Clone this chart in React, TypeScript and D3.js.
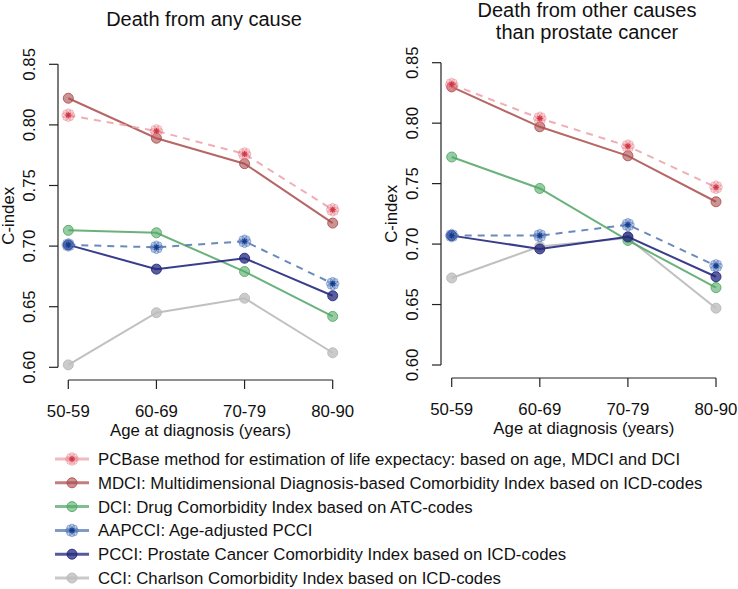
import React from "react";
import * as d3 from "d3";

const categories = ["50-59", "60-69", "70-79", "80-90"];

const seriesNames = ["PCBase", "MDCI", "DCI", "AAPCCI", "PCCI", "CCI"];

const legendLabels = [
  "PCBase method for estimation of life expectacy: based on age, MDCI and DCI",
  "MDCI: Multidimensional Diagnosis-based Comorbidity Index based on ICD-codes",
  "DCI: Drug Comorbidity Index based on ATC-codes",
  "AAPCCI: Age-adjusted PCCI",
  "PCCI: Prostate Cancer Comorbidity Index based on ICD-codes",
  "CCI: Charlson Comorbidity Index based on ICD-codes",
];

// Death from any cause
const anyPCBase = [0.808, 0.795, 0.776, 0.73];
const anyMDCI = [0.822, 0.789, 0.768, 0.719];
const anyDCI = [0.713, 0.711, 0.679, 0.642];
const anyAAPCCI = [0.701, 0.699, 0.704, 0.669];
const anyPCCI = [0.701, 0.681, 0.69, 0.659];
const anyCCI = [0.602, 0.645, 0.657, 0.612];

// Death from other causes than prostate cancer
const otherPCBase = [0.832, 0.804, 0.781, 0.747];
const otherMDCI = [0.83, 0.797, 0.773, 0.735];
const otherDCI = [0.772, 0.746, 0.703, 0.664];
const otherAAPCCI = [0.707, 0.707, 0.716, 0.682];
const otherPCCI = [0.707, 0.696, 0.706, 0.673];
const otherCCI = [0.672, 0.698, 0.705, 0.647];

const yTicks = [0.6, 0.65, 0.7, 0.75, 0.8, 0.85];

type Style = {
  line: string;
  dash?: string;
  marker: "circle" | "flower";
  fill: string;
  petalStroke?: string;
  center?: string;
};

const styles: Record<string, Style> = {
  PCBase: { line: "rgba(236,160,168,0.85)", dash: "7,6", marker: "flower", fill: "rgba(235,140,150,0.3)", petalStroke: "rgba(220,110,120,0.55)", center: "rgba(210,50,65,0.9)" },
  MDCI: { line: "rgba(170,75,75,0.85)", marker: "circle", fill: "rgba(170,75,75,0.6)" },
  DCI: { line: "rgba(80,165,100,0.85)", marker: "circle", fill: "rgba(80,170,100,0.6)" },
  AAPCCI: { line: "rgba(90,125,180,0.9)", dash: "7,6", marker: "flower", fill: "rgba(80,120,190,0.35)", petalStroke: "rgba(60,100,175,0.6)", center: "rgba(20,60,140,0.95)" },
  PCCI: { line: "rgba(35,40,125,0.9)", marker: "circle", fill: "rgba(35,40,125,0.75)" },
  CCI: { line: "rgba(185,185,185,0.9)", marker: "circle", fill: "rgba(190,190,190,0.8)" },
};

const drawOrder = ["CCI", "DCI", "PCCI", "AAPCCI", "MDCI", "PCBase"];

const FONT = "'Liberation Sans', Arial, Helvetica, sans-serif";
const FS = 16.8;

function Marker({ x, y, s }: { x: number; y: number; s: Style }) {
  if (s.marker === "circle") {
    return <circle cx={x} cy={y} r={5} fill={s.fill} stroke={s.line} strokeWidth={1} />;
  }
  const petals = d3.range(8).map((i) => {
    const a = (i * Math.PI) / 4;
    return (
      <circle key={i} cx={x + 3.9 * Math.cos(a)} cy={y + 3.9 * Math.sin(a)} r={2.5} fill={s.fill} stroke={s.petalStroke} strokeWidth={0.7} />
    );
  });
  const rays = d3.range(4).map((i) => {
    const a = (i * Math.PI) / 4;
    const dx = 3 * Math.cos(a);
    const dy = 3 * Math.sin(a);
    return <line key={"r" + i} x1={x - dx} y1={y - dy} x2={x + dx} y2={y + dy} stroke={s.center} strokeWidth={1.3} />;
  });
  return (
    <g>
      {petals}
      <circle cx={x} cy={y} r={2.4} fill={s.fill} />
      {rays}
    </g>
  );
}

type PanelProps = {
  data: Record<string, number[]>;
  x0: number;
  x1: number;
  yTop: number;
  yBot: number;
  axisX: number;
  axisY: number;
  titleLines: string[];
  titleX: number;
  titleBase: number;
};

function Panel(p: PanelProps) {
  const x = d3.scalePoint<string>().domain(categories).range([p.x0, p.x1]);
  const y = d3.scaleLinear().domain([0.6, 0.85]).range([p.yBot, p.yTop]);
  const line = d3
    .line<number>()
    .x((_, i) => x(categories[i]) as number)
    .y((d) => y(d));
  const midY = (p.yTop + p.yBot) / 2;
  const midX = (p.x0 + p.x1) / 2;
  return (
    <g>
      {p.titleLines.map((t, i) => (
        <text key={t} x={p.titleX} y={p.titleBase + i * 22.3} textAnchor="middle" fontSize={20} fontFamily={FONT} fill="#111">
          {t}
        </text>
      ))}
      {/* y axis */}
      <line x1={p.axisX} x2={p.axisX} y1={y(0.6)} y2={y(0.85)} stroke="#222" strokeWidth={1.2} />
      {yTicks.map((t) => (
        <g key={t}>
          <line x1={p.axisX - 9} x2={p.axisX} y1={y(t)} y2={y(t)} stroke="#222" strokeWidth={1.2} />
          <text transform={`translate(${p.axisX - 23},${y(t)}) rotate(-90)`} textAnchor="middle" fontSize={FS} fontFamily={FONT} fill="#111">
            {t.toFixed(2)}
          </text>
        </g>
      ))}
      <text transform={`translate(${p.axisX - 44},${midY}) rotate(-90)`} textAnchor="middle" fontSize={FS} fontFamily={FONT} fill="#111">
        C-index
      </text>
      {/* x axis */}
      <line x1={p.x0} x2={p.x1} y1={p.axisY} y2={p.axisY} stroke="#222" strokeWidth={1.2} />
      {categories.map((c) => (
        <g key={c}>
          <line x1={x(c)} x2={x(c)} y1={p.axisY} y2={p.axisY + 9} stroke="#222" strokeWidth={1.2} />
          <text x={x(c)} y={p.axisY + 36.5} textAnchor="middle" fontSize={FS} fontFamily={FONT} fill="#111">
            {c}
          </text>
        </g>
      ))}
      <text x={midX} y={p.axisY + 56} textAnchor="middle" fontSize={FS} fontFamily={FONT} fill="#111">
        Age at diagnosis (years)
      </text>
      {drawOrder.map((name) => {
        const s = styles[name];
        const vals = p.data[name];
        return (
          <g key={name}>
            <path d={line(vals) || ""} fill="none" stroke={s.line} strokeWidth={2} strokeDasharray={s.dash} />
            {vals.map((v, i) => (
              <Marker key={i} x={x(categories[i]) as number} y={y(v)} s={s} />
            ))}
          </g>
        );
      })}
    </g>
  );
}

export default function App() {
  const anyData: Record<string, number[]> = {
    PCBase: anyPCBase,
    MDCI: anyMDCI,
    DCI: anyDCI,
    AAPCCI: anyAAPCCI,
    PCCI: anyPCCI,
    CCI: anyCCI,
  };
  const otherData: Record<string, number[]> = {
    PCBase: otherPCBase,
    MDCI: otherMDCI,
    DCI: otherDCI,
    AAPCCI: otherAAPCCI,
    PCCI: otherPCCI,
    CCI: otherCCI,
  };
  const legendY = d3.scaleLinear().domain([0, 5]).range([459, 578]);
  return (
    <svg width={738} height={589} style={{ position: "absolute", left: 0, top: 0, background: "#fff" }}>
      <rect width={738} height={589} fill="#fff" />
      <Panel data={anyData} x0={68.3} x1={332.7} yTop={64.3} yBot={367.3} axisX={58} axisY={380} titleLines={["Death from any cause"]} titleX={204} titleBase={26} />
      <Panel
        data={otherData}
        x0={451.7}
        x1={716}
        yTop={62.7}
        yBot={365}
        axisX={441}
        axisY={378}
        titleLines={["Death from other causes", "than prostate cancer"]}
        titleX={587}
        titleBase={16.5}
      />
      {seriesNames.map((name, i) => {
        const s = styles[name];
        const ly = legendY(i);
        return (
          <g key={name}>
            <line x1={55} x2={89} y1={ly} y2={ly} stroke={s.line} strokeWidth={3} strokeOpacity={0.85} />
            <Marker x={72} y={ly} s={s} />
            <text x={98} y={ly + 6} fontSize={FS} fontFamily={FONT} fill="#111">
              {legendLabels[i]}
            </text>
          </g>
        );
      })}
    </svg>
  );
}
